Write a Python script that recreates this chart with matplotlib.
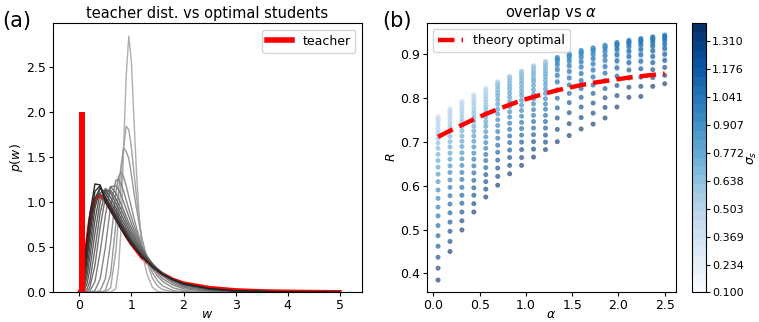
import numpy as np
import matplotlib
matplotlib.use("Agg")
import matplotlib.pyplot as plt
from matplotlib import colors
from matplotlib.lines import Line2D

# ---- panel (a): teacher distribution vs optimal students ----
w_grid = [0, 0.05, 0.1, 0.15, 0.2, 0.3, 0.4, 0.5, 0.6, 0.7, 0.75, 0.8, 0.85, 0.9, 0.95,
          1.0, 1.05, 1.1, 1.15, 1.2, 1.3, 1.4, 1.5, 1.6, 1.8, 2.0, 2.5, 3.0, 4.0, 5.0]

teacher_w = [0, 0.05, 0.1, 0.15, 0.2, 0.25, 0.3, 0.35, 0.4, 0.5, 0.6, 0.7, 0.8, 0.9, 1.0,
             1.2, 1.4, 1.6, 1.8, 2.0, 2.5, 3.0, 3.5, 4.0, 4.5, 5.0]
teacher_p = [0, 0.05, 0.28, 0.55, 0.78, 0.93, 1.02, 1.06, 1.07, 1.02, 0.93, 0.83, 0.73, 0.63, 0.54,
             0.39, 0.28, 0.20, 0.14, 0.10, 0.05, 0.025, 0.014, 0.009, 0.006, 0.004]
teacher_spike_w = 0.0
teacher_spike_p = 2.0

students = [
    [0, 0, 0, 0, 0, 0, 0, 0, 0, 0.04, 0.25, 0.7, 1.6, 2.4, 2.84, 2.55, 1.9, 1.3, 0.85, 0.45, 0.2, 0.06, 0.01, 0, 0, 0, 0, 0, 0, 0],
    [0, 0, 0, 0, 0, 0, 0, 0, 0.05, 0.45, 0.8, 1.2, 1.6, 1.84, 1.8, 1.6, 1.32, 1.05, 0.8, 0.6, 0.33, 0.16, 0.07, 0.03, 0.005, 0, 0, 0, 0, 0],
    [0, 0, 0, 0, 0, 0, 0, 0.02, 0.2, 0.75, 1.1, 1.4, 1.6, 1.56, 1.48, 1.3, 1.1, 0.92, 0.75, 0.6, 0.38, 0.22, 0.13, 0.07, 0.02, 0.005, 0, 0, 0, 0],
    [0, 0, 0, 0, 0, 0, 0.02, 0.15, 0.55, 1.1, 1.28, 1.33, 1.28, 1.18, 1.06, 0.94, 0.82, 0.71, 0.61, 0.52, 0.37, 0.26, 0.18, 0.12, 0.05, 0.02, 0.003, 0, 0, 0],
    [0, 0, 0, 0, 0, 0.02, 0.15, 0.5, 0.95, 1.24, 1.25, 1.2, 1.12, 1.02, 0.92, 0.83, 0.74, 0.66, 0.58, 0.51, 0.39, 0.29, 0.21, 0.15, 0.08, 0.04, 0.008, 0.002, 0, 0],
    [0, 0, 0, 0, 0.01, 0.12, 0.45, 0.85, 1.17, 1.18, 1.14, 1.08, 1.0, 0.92, 0.84, 0.76, 0.69, 0.62, 0.56, 0.5, 0.4, 0.31, 0.24, 0.18, 0.1, 0.055, 0.014, 0.004, 0, 0],
    [0, 0, 0, 0.01, 0.05, 0.3, 0.72, 1.05, 1.17, 1.1, 1.04, 0.98, 0.91, 0.84, 0.77, 0.71, 0.65, 0.59, 0.54, 0.49, 0.4, 0.32, 0.26, 0.2, 0.12, 0.07, 0.02, 0.006, 0.001, 0],
    [0, 0, 0.01, 0.04, 0.12, 0.48, 0.88, 1.12, 1.13, 1.04, 0.98, 0.92, 0.86, 0.79, 0.73, 0.67, 0.62, 0.56, 0.52, 0.47, 0.39, 0.32, 0.26, 0.21, 0.13, 0.08, 0.025, 0.008, 0.002, 0],
    [0, 0.005, 0.03, 0.1, 0.25, 0.65, 1.0, 1.15, 1.1, 0.99, 0.93, 0.87, 0.81, 0.75, 0.69, 0.64, 0.59, 0.54, 0.5, 0.46, 0.38, 0.31, 0.26, 0.21, 0.14, 0.09, 0.03, 0.01, 0.002, 0],
    [0, 0.01, 0.06, 0.18, 0.38, 0.8, 1.1, 1.13, 1.05, 0.94, 0.88, 0.82, 0.77, 0.71, 0.66, 0.61, 0.56, 0.52, 0.48, 0.44, 0.37, 0.31, 0.25, 0.21, 0.14, 0.09, 0.035, 0.012, 0.003, 0.001],
    [0, 0.02, 0.1, 0.27, 0.5, 0.93, 1.16, 1.1, 1.0, 0.9, 0.84, 0.78, 0.73, 0.68, 0.63, 0.58, 0.54, 0.5, 0.46, 0.42, 0.36, 0.3, 0.25, 0.2, 0.14, 0.095, 0.038, 0.014, 0.003, 0.001],
    [0, 0.04, 0.16, 0.37, 0.62, 1.04, 1.16, 1.06, 0.96, 0.86, 0.8, 0.75, 0.7, 0.65, 0.6, 0.56, 0.52, 0.48, 0.44, 0.41, 0.35, 0.29, 0.24, 0.2, 0.14, 0.095, 0.04, 0.015, 0.004, 0.001],
    [0, 0.06, 0.24, 0.48, 0.74, 1.12, 1.18, 1.03, 0.93, 0.83, 0.78, 0.73, 0.68, 0.63, 0.59, 0.55, 0.51, 0.47, 0.44, 0.4, 0.34, 0.29, 0.24, 0.2, 0.14, 0.095, 0.04, 0.016, 0.004, 0.001],
    [0, 0.1, 0.34, 0.6, 0.86, 1.2, 1.19, 1.0, 0.9, 0.8, 0.75, 0.7, 0.66, 0.61, 0.57, 0.53, 0.5, 0.46, 0.43, 0.39, 0.34, 0.28, 0.24, 0.2, 0.14, 0.095, 0.04, 0.016, 0.004, 0.001],
]

# ---- panel (b): overlap vs alpha ----
alphas = [0.05, 0.179, 0.308, 0.437, 0.566, 0.695, 0.824, 0.953, 1.082, 1.211,
          1.339, 1.468, 1.597, 1.726, 1.855, 1.984, 2.113, 2.242, 2.371, 2.5]
sigmas = [0.100, 0.145, 0.190, 0.234, 0.279, 0.324, 0.369, 0.414, 0.459, 0.503,
          0.548, 0.593, 0.638, 0.683, 0.728, 0.772, 0.817, 0.862, 0.907, 0.952,
          0.997, 1.041, 1.086, 1.131, 1.176, 1.221, 1.266, 1.310, 1.355, 1.400]
sigma_ticks = [0.100, 0.234, 0.369, 0.503, 0.638, 0.772, 0.907, 1.041, 1.176, 1.310]

# R[alpha][sigma]
R = [
    [.730, .737, .743, .748, .752, .755, .757, .751, .745, .737, .728, .719, .708, .697, .685, .671, .657, .642, .626, .609, .590, .571, .551, .531, .509, .486, .462, .437, .412, .385],
    [.748, .755, .761, .766, .770, .773, .775, .770, .764, .758, .750, .742, .733, .723, .712, .700, .688, .674, .660, .645, .630, .613, .596, .577, .558, .538, .517, .496, .473, .450],
    [.765, .772, .778, .783, .787, .790, .792, .788, .782, .776, .770, .762, .754, .745, .735, .725, .713, .701, .689, .675, .661, .646, .630, .614, .596, .578, .560, .540, .520, .499],
    [.780, .787, .793, .798, .802, .805, .807, .803, .798, .793, .787, .780, .772, .764, .755, .746, .735, .724, .713, .701, .688, .674, .660, .645, .629, .612, .595, .578, .559, .540],
    [.795, .802, .808, .813, .817, .820, .822, .818, .814, .809, .803, .797, .790, .782, .774, .765, .755, .745, .735, .723, .711, .698, .685, .671, .657, .641, .625, .609, .592, .574],
    [.781, .790, .798, .805, .811, .817, .822, .827, .831, .834, .836, .831, .826, .819, .812, .804, .795, .785, .774, .763, .750, .737, .723, .708, .692, .676, .658, .640, .621, .601],
    [.794, .803, .811, .818, .824, .830, .835, .840, .844, .847, .849, .845, .839, .833, .826, .819, .810, .801, .791, .780, .768, .756, .742, .728, .713, .698, .681, .664, .646, .627],
    [.806, .815, .823, .830, .836, .842, .847, .852, .856, .859, .861, .857, .852, .846, .839, .832, .823, .814, .805, .794, .783, .771, .758, .744, .730, .715, .699, .682, .664, .646],
    [.818, .827, .835, .842, .848, .854, .859, .864, .868, .871, .873, .869, .864, .858, .852, .844, .837, .828, .818, .808, .797, .786, .773, .760, .746, .731, .716, .700, .683, .665],
    [.828, .837, .845, .852, .858, .864, .869, .874, .878, .881, .883, .879, .874, .869, .862, .855, .848, .839, .830, .820, .810, .798, .786, .774, .760, .746, .731, .715, .699, .682],
    [.822, .827, .832, .837, .842, .847, .852, .857, .862, .866, .870, .874, .878, .882, .885, .887, .889, .891, .892, .885, .876, .864, .851, .836, .818, .799, .777, .754, .728, .700],
    [.830, .835, .840, .845, .850, .855, .860, .865, .870, .874, .878, .882, .886, .890, .893, .895, .897, .899, .900, .893, .884, .873, .860, .845, .829, .810, .789, .766, .741, .714],
    [.838, .843, .848, .853, .858, .863, .868, .873, .878, .882, .886, .890, .894, .898, .901, .903, .905, .907, .908, .901, .893, .882, .870, .855, .839, .821, .801, .779, .755, .729],
    [.844, .849, .854, .859, .864, .869, .874, .879, .884, .888, .892, .896, .900, .904, .907, .909, .911, .913, .914, .908, .899, .889, .877, .863, .847, .829, .810, .788, .765, .740],
    [.850, .855, .860, .865, .870, .875, .880, .885, .890, .894, .898, .902, .906, .910, .913, .915, .917, .919, .920, .914, .906, .896, .885, .871, .856, .839, .821, .800, .778, .754],
    [.856, .860, .864, .868, .872, .876, .880, .884, .888, .892, .896, .900, .904, .908, .912, .916, .919, .921, .923, .925, .926, .919, .910, .898, .884, .868, .849, .828, .805, .779],
    [.861, .865, .869, .873, .877, .881, .885, .889, .893, .897, .901, .905, .909, .913, .917, .921, .924, .926, .928, .930, .931, .925, .917, .906, .894, .880, .863, .845, .824, .801],
    [.865, .869, .873, .877, .881, .885, .889, .893, .897, .901, .905, .909, .913, .917, .921, .925, .928, .930, .932, .934, .935, .929, .921, .910, .898, .883, .866, .847, .826, .803],
    [.869, .873, .877, .881, .885, .889, .893, .897, .901, .905, .909, .913, .917, .921, .925, .929, .932, .934, .936, .938, .939, .934, .927, .918, .907, .894, .880, .864, .846, .826],
    [.873, .877, .881, .885, .889, .893, .897, .901, .905, .909, .913, .917, .921, .925, .929, .933, .936, .938, .940, .942, .943, .938, .931, .922, .912, .899, .885, .869, .851, .832],
]

theory_R = [0.711, 0.725, 0.738, 0.751, 0.763, 0.774, 0.784, 0.794, 0.802, 0.810,
            0.817, 0.823, 0.829, 0.834, 0.838, 0.842, 0.846, 0.849, 0.852, 0.855]

fig = plt.figure(figsize=(7.59, 3.22), dpi=100)
ax1 = fig.add_axes([0.0702, 0.0922, 0.4063, 0.8354])
ax2 = fig.add_axes([0.5622, 0.0922, 0.3285, 0.8373])
cax = fig.add_axes([0.9113, 0.0922, 0.0188, 0.8373])

# (a)
ax1.plot(teacher_w, teacher_p, color='red', lw=2.8, zorder=1)
greys = plt.cm.Greys(np.linspace(0.42, 0.88, len(students)))
for p, col in zip(students, greys):
    ax1.plot(w_grid, p, color=col, lw=1.0, zorder=2)
ax1.bar(teacher_spike_w, teacher_spike_p, width=0.1, align='edge', color='red', zorder=3)
ax1.set_xlim(-0.5, 5.42)
ax1.set_ylim(0, 2.98)
ax1.set_xticks([0, 1, 2, 3, 4, 5])
ax1.set_yticks([0.0, 0.5, 1.0, 1.5, 2.0, 2.5])
ax1.tick_params(labelsize=9, length=3, pad=2)
ax1.set_xlabel(r'$w$', fontsize=9, labelpad=-3)
ax1.set_ylabel(r'$p(w)$', fontsize=9, labelpad=1)
ax1.set_title('teacher dist. vs optimal students', fontsize=10.5, pad=4)
ax1.legend(handles=[Line2D([], [], color='red', lw=4, label='teacher')],
           loc='upper right', fontsize=9)

# (b)
cmap = plt.get_cmap('Blues', len(sigmas))
norm = colors.Normalize(sigmas[0], sigmas[-1])
for a, row in zip(alphas, R):
    ax2.scatter([a] * len(row), row, c=sigmas, cmap=cmap, norm=norm,
                s=13, alpha=0.63, linewidths=0, zorder=2)
ax2.plot(alphas, theory_R, color='red', lw=3.2, ls='--', label='theory optimal', zorder=3)
ax2.set_xticks([0.0, 0.5, 1.0, 1.5, 2.0, 2.5])
ax2.set_yticks([0.4, 0.5, 0.6, 0.7, 0.8, 0.9])
ax2.tick_params(labelsize=9, length=3, pad=2)
ax2.set_xlabel(r'$\alpha$', fontsize=9, labelpad=-3)
ax2.set_ylabel(r'$R$', fontsize=9, labelpad=1)
ax2.set_title(r'overlap vs $\alpha$', fontsize=10.5, pad=4)
ax2.legend(loc='upper left', fontsize=9)

sm = plt.cm.ScalarMappable(norm=norm, cmap=cmap)
sm.set_array([])
cb = fig.colorbar(sm, cax=cax, ticks=sigma_ticks, format='%.3f')
cb.ax.tick_params(labelsize=8, length=3, pad=1.5)
cb.set_label(r'$\sigma_s$', fontsize=9, labelpad=1)

fig.text(0.003, 0.915, '(a)', fontsize=15)
fig.text(0.503, 0.915, '(b)', fontsize=15)

fig.savefig('out.png', dpi=100)
